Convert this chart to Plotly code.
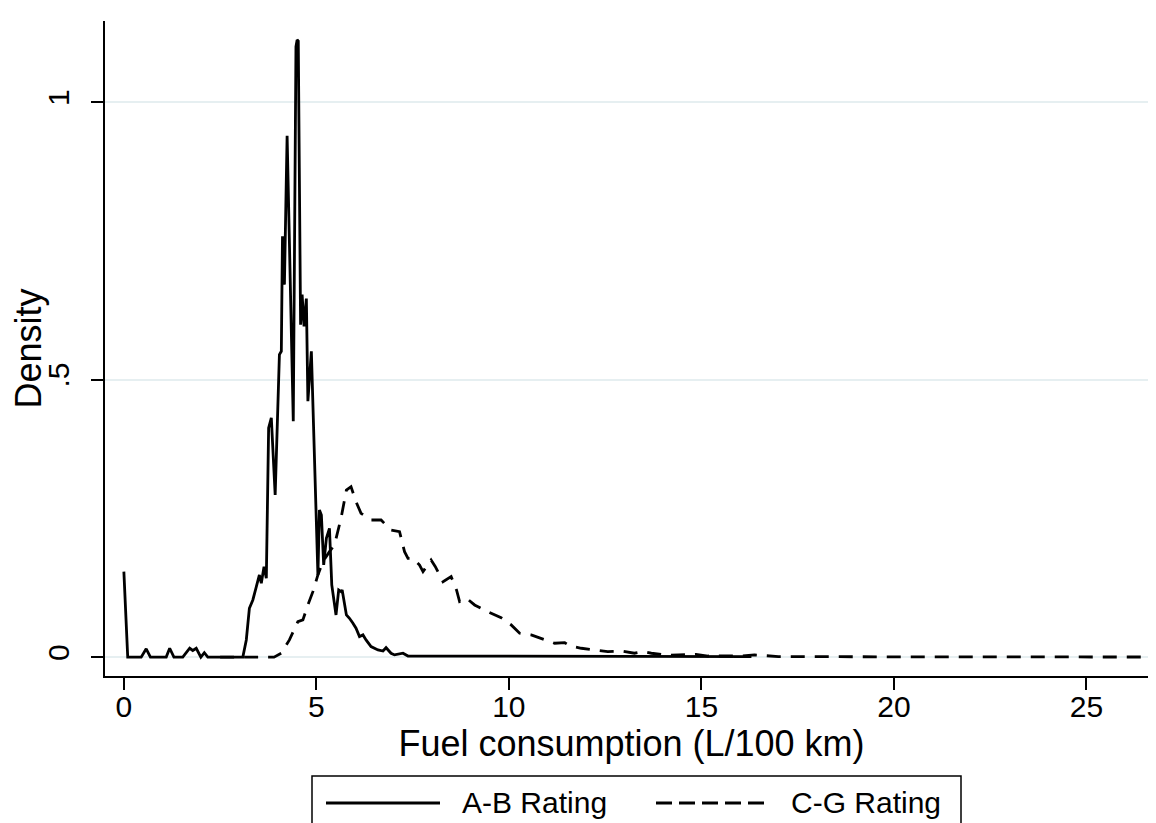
import plotly.graph_objects as go

# A-B Rating density (solid)
ab_x = [0.0, 0.1, 0.45, 0.58, 0.69, 1.1, 1.19, 1.3, 1.53, 1.71, 1.79, 1.88, 2.0, 2.09, 2.18,
        3.09, 3.18, 3.26, 3.35, 3.44, 3.52, 3.57, 3.64, 3.70, 3.76, 3.83, 3.93, 4.04, 4.09,
        4.12, 4.17, 4.24, 4.40, 4.47, 4.50, 4.53, 4.59, 4.63, 4.68, 4.74, 4.78, 4.87, 5.04,
        5.08, 5.13, 5.19, 5.26, 5.34, 5.40, 5.51, 5.58, 5.64, 5.67, 5.78, 5.86, 5.95, 6.03,
        6.12, 6.21, 6.29, 6.42, 6.60, 6.73, 6.81, 6.94, 7.03, 7.16, 7.25, 7.38, 7.8, 9.0,
        10.5, 12.0, 13.5, 15.0, 16.3]
ab_y = [0.154, 0.0, 0.0, 0.015, 0.0, 0.0, 0.016, 0.0, 0.0, 0.016, 0.012, 0.016, 0.0, 0.008, 0.0,
        0.0, 0.031, 0.088, 0.103, 0.126, 0.148, 0.133, 0.163, 0.142, 0.413, 0.431, 0.292, 0.545, 0.551,
        0.758, 0.671, 0.939, 0.425, 1.100, 1.112, 1.110, 0.599, 0.653, 0.596, 0.646, 0.461, 0.551, 0.148,
        0.265, 0.256, 0.166, 0.214, 0.232, 0.130, 0.076, 0.121, 0.118, 0.121, 0.076, 0.070, 0.061, 0.052,
        0.037, 0.040, 0.031, 0.019, 0.013, 0.011, 0.017, 0.007, 0.004, 0.006, 0.007, 0.002, 0.002, 0.001,
        0.001, 0.001, 0.001, 0.001, 0.001]

# C-G Rating density (dashed)
cg_x = [2.5, 3.9, 4.09, 4.30, 4.52, 4.65, 4.78, 4.91, 5.04, 5.17, 5.34, 5.47, 5.64, 5.78, 5.90,
        6.03, 6.16, 6.42, 6.68, 6.94, 7.16, 7.29, 7.38, 7.51, 7.68, 7.77, 7.98, 8.09, 8.29, 8.50,
        8.64, 8.72, 8.90, 9.11, 9.45, 9.80, 10.06, 10.28, 10.58, 10.84, 11.19, 11.45, 11.6, 11.88,
        12.23, 12.57, 12.92, 13.26, 13.48, 13.7, 13.96, 14.1, 14.4, 14.65, 14.86, 15.17, 15.6, 16.0,
        16.38, 17.0, 20.0, 24.0, 26.8]
cg_y = [0.0, 0.0, 0.007, 0.031, 0.064, 0.067, 0.094, 0.118, 0.148, 0.172, 0.190, 0.202, 0.250, 0.301, 0.307,
        0.280, 0.259, 0.247, 0.247, 0.229, 0.226, 0.190, 0.178, 0.178, 0.166, 0.154, 0.175, 0.163, 0.136, 0.145,
        0.121, 0.100, 0.106, 0.094, 0.082, 0.071, 0.058, 0.043, 0.040, 0.034, 0.025, 0.026, 0.020, 0.016,
        0.013, 0.010, 0.011, 0.007, 0.010, 0.007, 0.005, 0.003, 0.004, 0.005, 0.005, 0.002, 0.002, 0.002,
        0.004, 0.001, 0.0005, 0.0003, 0.0002]

x_ticks = [0, 5, 10, 15, 20, 25]
x_tick_labels = ["0", "5", "10", "15", "20", "25"]
y_ticks = [0, 0.5, 1]
y_tick_labels = ["0", ".5", "1"]
series_names = ["A-B Rating", "C-G Rating"]

FONT = "Liberation Sans, Arial, Helvetica, sans-serif"

fig = go.Figure()
fig.add_trace(go.Scatter(x=ab_x, y=ab_y, mode="lines", name=series_names[0],
                         line=dict(color="black", width=2.8), showlegend=False))
fig.add_trace(go.Scatter(x=cg_x, y=cg_y, mode="lines", name=series_names[1],
                         line=dict(color="black", width=2.8, dash="14px,10px"), showlegend=False))

# plot area in pixels: x 97..1150, y 13..668
L, R, T, B = 97, 1150, 13, 668
W, H = R - L, B - T
def px(x):
    return (x - L) / W
def py(y):
    return (B - y) / H

shapes = [
    dict(type="rect", xref="paper", yref="paper", x0=px(304), x1=px(953), y0=py(768), y1=py(840),
         line=dict(color="black", width=1.5), fillcolor="white", layer="above"),
    dict(type="line", xref="paper", yref="paper", x0=px(318), x1=px(432), y0=py(795), y1=py(795),
         line=dict(color="black", width=2.8)),
    dict(type="line", xref="paper", yref="paper", x0=px(648), x1=px(761), y0=py(795), y1=py(795),
         line=dict(color="black", width=2.8, dash="16px,7px")),
]
annotations = [
    dict(xref="paper", yref="paper", x=px(452), y=py(795), text=series_names[0], showarrow=False,
         xanchor="left", yanchor="middle", font=dict(size=30, color="black", family=FONT)),
    dict(xref="paper", yref="paper", x=px(781), y=py(795), text=series_names[1], showarrow=False,
         xanchor="left", yanchor="middle", font=dict(size=30, color="black", family=FONT)),
]

fig.update_layout(
    width=1156, height=823,
    margin=dict(l=L, r=1156 - R, t=T, b=823 - B, autoexpand=False),
    paper_bgcolor="white", plot_bgcolor="white",
    font=dict(family=FONT, size=30, color="black"),
    showlegend=False,
    shapes=shapes, annotations=annotations,
    xaxis=dict(range=[-0.49, 26.86], tickvals=x_ticks, ticktext=x_tick_labels,
               showgrid=False, zeroline=False, showline=True, linecolor="black", linewidth=2,
               ticks="outside", ticklen=12, tickwidth=2, tickcolor="black",
               ticklabelstandoff=-9,
               title=dict(text="Fuel consumption (L/100 km)", standoff=4)),
    yaxis=dict(range=[-0.034, 1.146], tickvals=y_ticks, ticktext=y_tick_labels, tickangle=-90,
               showgrid=True, gridcolor="#e6eff1", gridwidth=2,
               zeroline=False, showline=True, linecolor="black", linewidth=2,
               ticks="outside", ticklen=12, tickwidth=2, tickcolor="black",
               ticklabelstandoff=10,
               title=dict(text="Density", standoff=2)),
)

fig.write_html("out.html")
